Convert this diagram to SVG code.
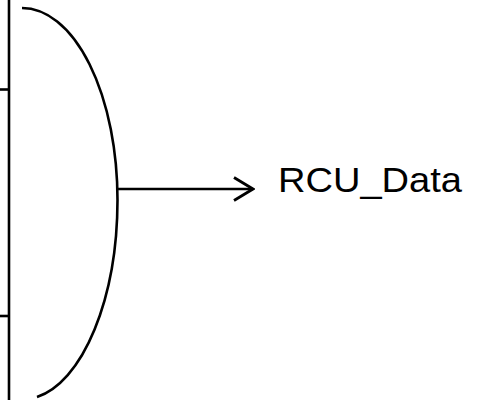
<svg xmlns="http://www.w3.org/2000/svg" width="485" height="400" viewBox="0 0 485 400">
  <style>
    .ln { fill: none; stroke: #000; stroke-width: 2.6; }
    .lbl { font-family: "Liberation Sans", Arial, sans-serif; font-size: 35px; fill: #000; }
  </style>
  <defs>
    <marker id="chevron" viewBox="0 0 22 26" refX="20" refY="13" markerWidth="22" markerHeight="26" markerUnits="userSpaceOnUse" orient="auto">
      <path d="M1,1.5 L20,13 L1,24.5" fill="none" stroke="#000" stroke-width="2.8"/>
    </marker>
  </defs>
  <rect width="485" height="400" fill="#fff"/>
  <!-- input bus and its two taps -->
  <g id="bus">
    <line class="ln" x1="9" y1="0" x2="9" y2="400"/>
    <line class="ln" x1="0" y1="89.5" x2="9" y2="89.5"/>
    <line class="ln" x1="0" y1="316" x2="9" y2="316"/>
  </g>
  <!-- merge gate outline -->
  <g id="gate">
    <path class="ln" d="M22,8 A95.5,192 0 0 1 117.5,200 A95.5,200 0 0 1 37,397"/>
  </g>
  <g id="connectors">
    <line class="ln" x1="117" y1="189" x2="253" y2="189" marker-end="url(#chevron)"/>
  </g>
  <g id="output">
    <text class="lbl" x="278" y="192" textLength="184" lengthAdjust="spacingAndGlyphs">RCU_Data</text>
  </g>
</svg>
